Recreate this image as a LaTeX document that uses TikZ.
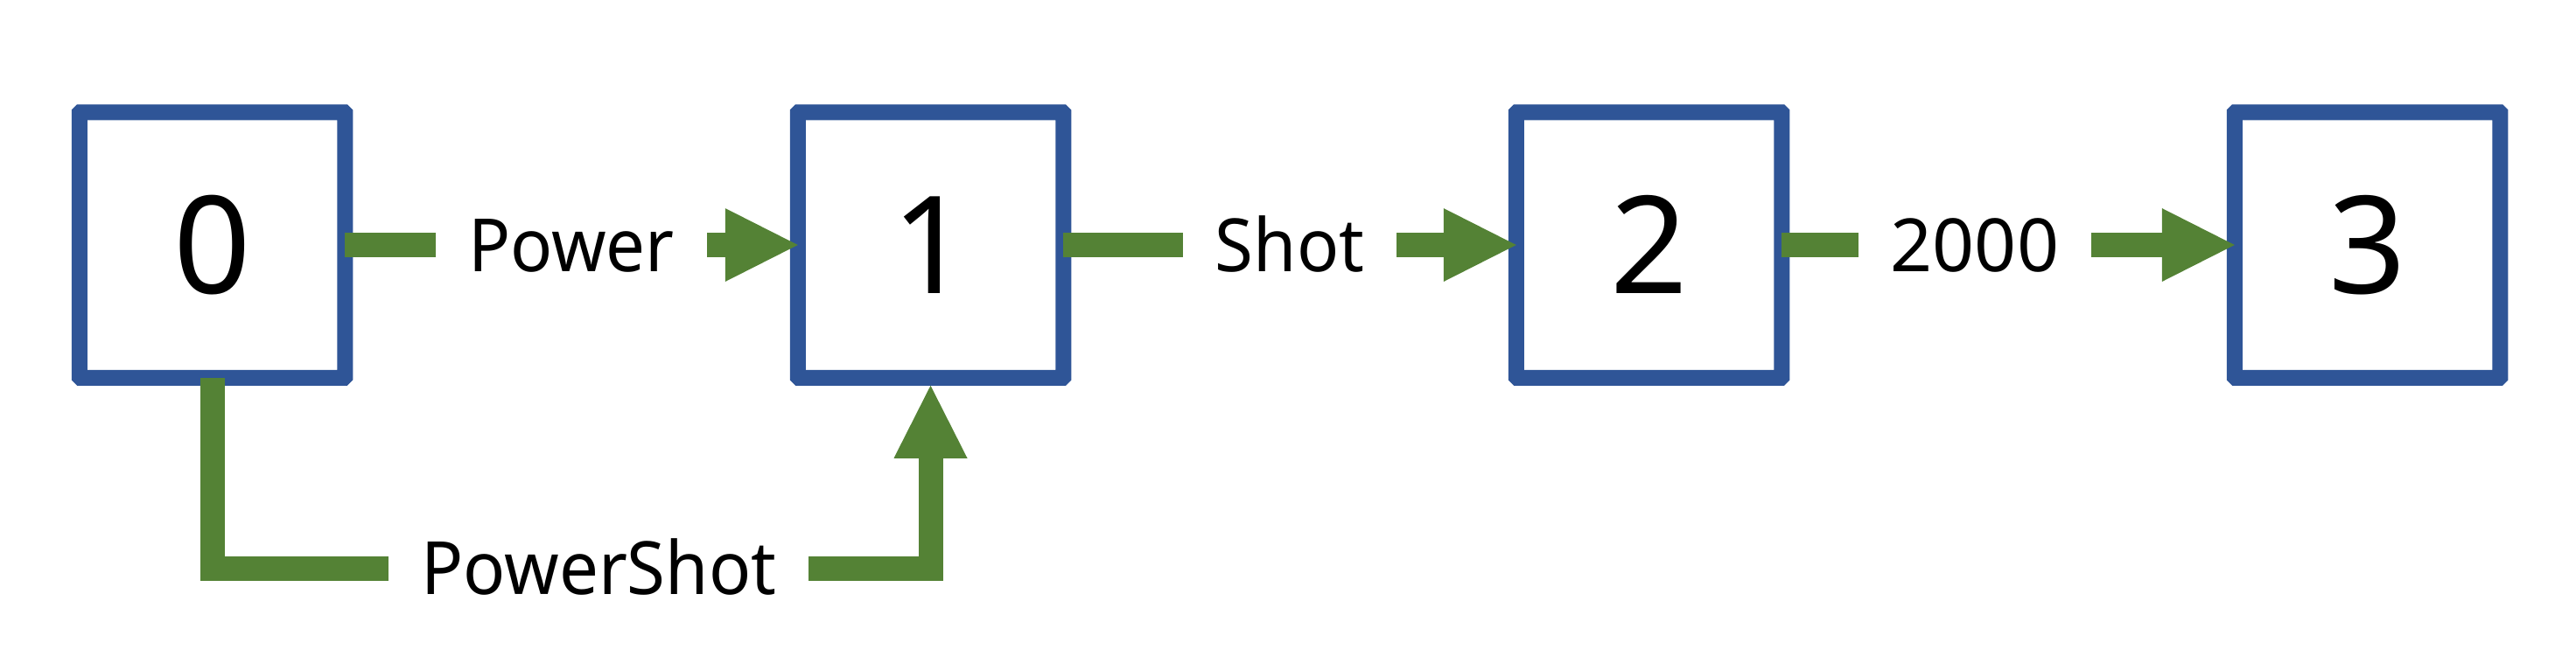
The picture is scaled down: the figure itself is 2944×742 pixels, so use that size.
\documentclass[tikz,border=0pt]{standalone}
\usepackage{fontspec}
\setmainfont{Noto Sans}
\newfontfamily\wordfont[FakeStretch=0.95]{Noto Sans}
\usetikzlibrary{arrows.meta}
\definecolor{boxblue}{HTML}{2F5597}
\definecolor{arrgreen}{HTML}{548235}
\tikzset{
  statebox/.style={draw=boxblue, line width=18pt, rounded corners=1pt, fill=white,
    minimum width=303.5pt, minimum height=303.5pt, inner sep=0pt, outer sep=0pt,
    font=\fontsize{155}{180}\selectfont, text height=110pt, text depth=0pt},
  conn/.style={draw=arrgreen, line width=28pt,
    -{Triangle[length=83pt,width=84pt,line width=0pt]}},
  lbl/.style={fill=white, inner xsep=37pt, inner ysep=2pt, text=black,
    font=\fontsize{84}{100}\selectfont, text height=60pt, text depth=0pt},
  wlbl/.style={lbl, font=\fontsize{84}{100}\wordfont}
}
\begin{document}
\begin{tikzpicture}[x=1pt, y=-1pt]
\useasboundingbox (0,0) rectangle (2944,742);
\node[statebox] (b0) at (242.5,280) {0};
\node[statebox] (b1) at (1063.5,280) {1};
\node[statebox] (b2) at (1884.5,280) {2};
\node[statebox] (b3) at (2705.5,280) {3};
\coordinate (k) at (1063.5,649.5);
\draw[conn] (b0.east) -- node[wlbl] {Power} (b1.west);
\draw[conn] (b1.east) -- node[wlbl] {Shot} (b2.west);
\draw[conn] (b2.east) -- node[lbl, pos=0.4265] {2000} (b3.west);
\draw[conn, shorten >=9pt] (b0.south) |- node[wlbl, pos=0.769] {PowerShot} (k) -- (b1.south);
\end{tikzpicture}
\end{document}
